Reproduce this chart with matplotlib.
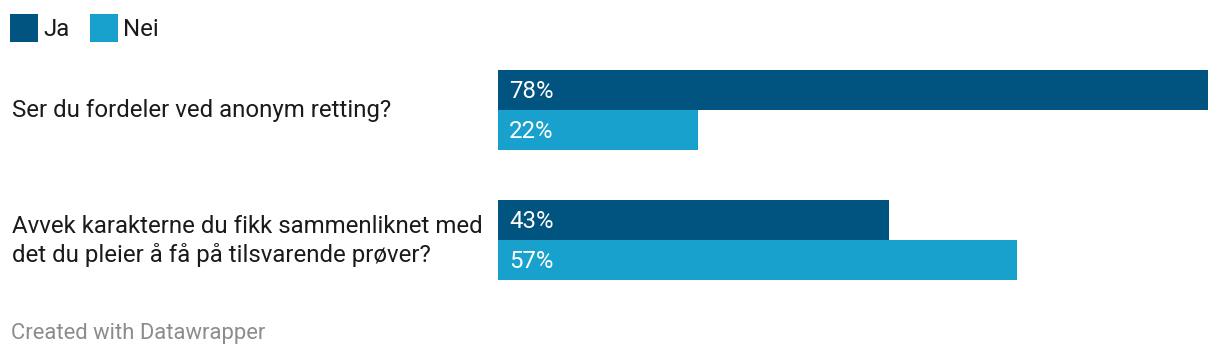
import matplotlib.pyplot as plt
from matplotlib.patches import Rectangle

plt.rcParams['font.family'] = ['Roboto', 'DejaVu Sans']

questions = ["Ser du fordeler ved anonym retting?",
             "Avvek karakterne du fikk sammenliknet med\ndet du pleier å få på tilsvarende prøver?"]
series = ["Ja", "Nei"]
ja = [78, 43]
nei = [22, 57]
colors = ["#015480", "#18a1cd"]

W, H = 1220, 356
fig = plt.figure(figsize=(W / 100, H / 100), dpi=100)


def px(x, y):
    return x / W, 1 - y / H


# bar area: x 498..1208 px, y 70..280 px
ax = fig.add_axes([498 / W, (H - 280) / H, 710 / W, 210 / H])
h = 40 / 130
ys = range(len(questions))
for i, vals in enumerate([ja, nei]):
    pos = [g - h / 2 + i * h for g in ys]
    ax.barh(pos, vals, height=h, color=colors[i], linewidth=0)
    for p, v in zip(pos, vals):
        ax.text(11 / 910 * 100, p + 2 / 130, f"{v}%", color="white", fontsize=17.3,
                va="center", ha="left")
ax.set_xlim(0, 78)
ax.set_ylim(1 + h, -h)
ax.axis("off")

# question labels
for g, q in zip(ys, questions):
    yc = 110 + g * 130
    fig.text(*px(12, yc + 1), q, fontsize=17.3, color="#1a1a1a",
             va="center", ha="left", linespacing=1.3)

# legend
lx = [10, 90]
for x, name, c in zip(lx, series, colors):
    fig.add_artist(Rectangle(px(x, 42), 28 / W, 28 / H, transform=fig.transFigure,
                             color=c, linewidth=0))
    fig.text(*px(x + 33, 29), name, fontsize=17.3, color="#1a1a1a",
             va="center", ha="left")

fig.text(*px(11, 333.5), "Created with Datawrapper", fontsize=15.8,
         color="#8c8c8c", va="center", ha="left")

fig.savefig("out.png", dpi=100)
